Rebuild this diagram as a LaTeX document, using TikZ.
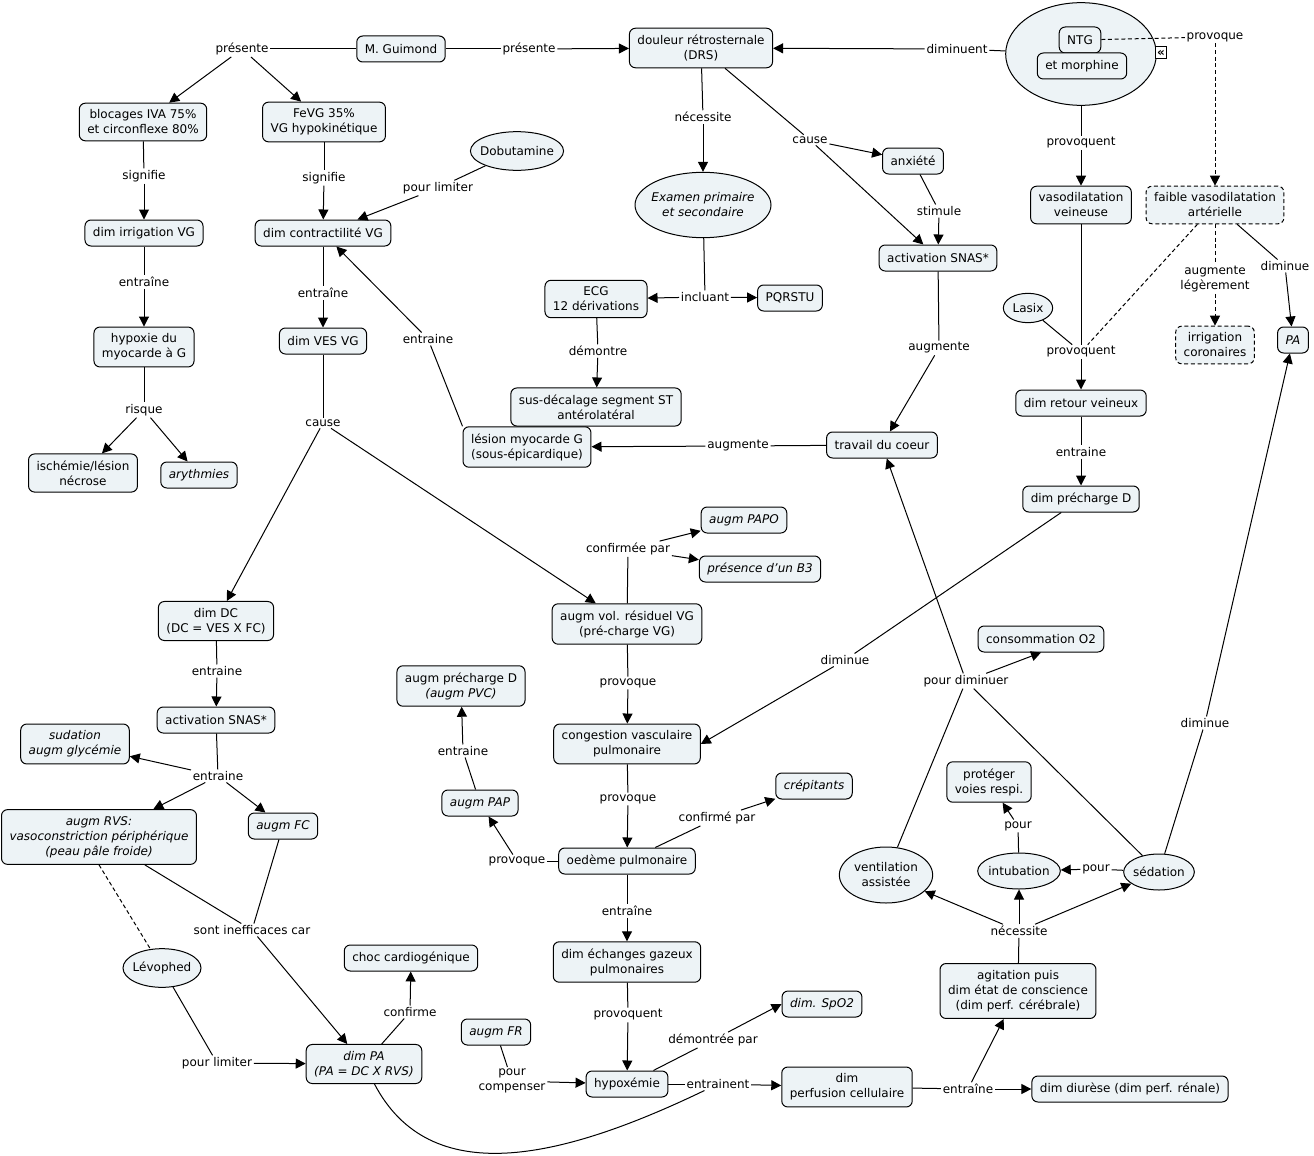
\documentclass[tikz,border=0pt]{standalone}
\usepackage{fontspec}
\setmainfont{DejaVu Sans}
\usetikzlibrary{arrows.meta,positioning,shapes.geometric}
\definecolor{cmapfill}{HTML}{EDF3F6}
\newcommand\mapfont{\fontsize{9}{11.25}\selectfont}

\begin{document}
\begin{tikzpicture}[x=0.75pt,y=-0.75pt,font=\mapfont,concept/.style={draw,fill=cmapfill,rounded corners=4.5pt,align=center,inner xsep=6pt,inner ysep=5pt,minimum height=19.5pt,line width=0.75pt},ital/.style={concept,font=\mapfont\itshape},dashbox/.style={concept,dash pattern=on 3pt off 2pt},bubble/.style={draw,fill=cmapfill,ellipse,align=center,inner xsep=-3pt,inner ysep=0pt,line width=0.75pt},phrase/.style={inner sep=1.2pt,align=center},link/.style={line width=0.75pt},arr/.style={link,-{Triangle[length=7.5pt,width=7.5pt]}},dashline/.style={dash pattern=on 3pt off 2pt}]
\useasboundingbox (0,0) rectangle (1314,1156);
\node[bubble,minimum width=113pt,minimum height=77pt] (ntg) at (1081,54){};
\node[concept] (ntgbox) at (1080,40){NTG};
\node[concept] (morph) at (1082,66){et morphine};
\node[draw,fill=white,line width=0.75pt,inner sep=0pt,minimum width=8.5pt,minimum height=9pt,font=\fontsize{9}{9}\selectfont\bfseries] (fold) at (1161,53){«};
\node[concept] (guimond) at (401,49){M. Guimond};
\node[concept] (drs) at (701,48){douleur rétrosternale\\(DRS)};
\node[concept] (blocages) at (143,122){blocages IVA 75\%\\et circonflexe 80\%};
\node[concept] (fevg) at (324,122){FeVG 35\%\\VG hypokinétique};
\node[bubble,minimum width=69pt,minimum height=29pt] (dobu) at (517,151){Dobutamine};
\node[bubble,minimum width=102pt,minimum height=49pt,font=\mapfont\itshape] (examen) at (703,205){Examen primaire\\et secondaire};
\node[concept] (anxiete) at (913,161){anxiété};
\node[concept] (vasoveine) at (1081,205){vasodilatation\\veineuse};
\node[dashbox] (faiblevaso) at (1215,205){faible vasodilatation\\artérielle};
\node[concept] (dimirrig) at (144,233){dim irrigation VG};
\node[concept] (dimcontr) at (323,233){dim contractilité VG};
\node[concept] (snas) at (938,258){activation SNAS*};
\node[concept] (ecg) at (596,299){ECG\\12 dérivations};
\node[concept] (pqrstu) at (790,298){PQRSTU};
\node[bubble,minimum width=37pt,minimum height=22pt] (lasix) at (1028,308){Lasix};
\node[dashbox] (irrigcor) at (1215,345){irrigation\\coronaires};
\node[ital] (pa) at (1293,340){PA};
\node[concept] (hypoxie) at (144,347){hypoxie du\\myocarde à G};
\node[concept] (dimves) at (323,341){dim VES VG};
\node[concept] (susdec) at (596,407){sus-décalage segment ST\\antérolatéral};
\node[concept] (lesion) at (527,447){lésion myocarde G\\(sous-épicardique)};
\node[concept] (travail) at (882,445){travail du coeur};
\node[concept] (retour) at (1081,403){dim retour veineux};
\node[concept] (prechd) at (1081,499){dim précharge D};
\node[concept] (ischemie) at (83,473){ischémie/lésion\\nécrose};
\node[ital] (aryth) at (199,475){arythmies};
\node[ital] (papo) at (744,520){augm PAPO};
\node[ital] (bthree) at (760,569){présence d'un B3};
\node[concept] (volres) at (627,624){augm vol. résiduel VG\\(pré-charge VG)};
\node[concept] (dimdc) at (216,621){dim DC\\(DC = VES X FC)};
\node[concept] (conso) at (1041,639){consommation O2};
\node[concept] (augprechd) at (461,686){augm précharge D\\\textit{(augm PVC)}};
\node[concept] (snasb) at (216,720){activation SNAS*};
\node[ital] (sudation) at (75,744){sudation\\augm glycémie};
\node[concept] (congestion) at (627,744){congestion vasculaire\\pulmonaire};
\node[ital] (crep) at (814,786){crépitants};
\node[ital] (pap) at (480,803){augm PAP};
\node[concept] (proteger) at (989,782){protéger\\voies respi.};
\node[ital] (rvs) at (99,837){augm RVS:\\vasoconstriction périphérique\\(peau pâle froide)};
\node[ital] (fc) at (283,826){augm FC};
\node[concept] (oedeme) at (627,861){oedème pulmonaire};
\node[bubble,minimum width=70pt,minimum height=42pt] (ventil) at (886,875){ventilation\\assistée};
\node[bubble,minimum width=62pt,minimum height=27pt] (intub) at (1019,871){intubation};
\node[bubble,minimum width=53pt,minimum height=27pt] (sedation) at (1159,872){sédation};
\node[bubble,minimum width=58.5pt,minimum height=29pt] (levophed) at (162,968){Lévophed};
\node[concept] (choc) at (411,958){choc cardiogénique};
\node[concept] (echanges) at (627,962){dim échanges gazeux\\pulmonaires};
\node[concept] (agitation) at (1018,991){agitation puis\\dim état de conscience\\(dim perf. cérébrale)};
\node[ital] (spo2) at (822,1004){dim. SpO2};
\node[ital] (fr) at (496,1032){augm FR};
\node[ital] (dimpa) at (364,1064){dim PA\\(PA = DC X RVS)};
\node[concept] (hypoxemie) at (627,1084){hypoxémie};
\node[concept] (perfusion) at (847,1087){dim\\perfusion cellulaire};
\node[concept] (diurese) at (1130,1089){dim diurèse (dim perf. rénale)};
\node[phrase] (lpres1) at (242,49){présente};
\node[phrase] (lpres2) at (529,49){présente};
\node[phrase] (ldiminuent) at (957,49){diminuent};
\node[phrase] (lprovoque) at (1215,37){provoque};
\node[phrase] (lsignif1) at (144,176){signifie};
\node[phrase] (lsignif2) at (324,178){signifie};
\node[phrase] (lpourlim1) at (438,188){pour limiter};
\node[phrase] (lnecess1) at (703,117){nécessite};
\node[phrase] (lcause1) at (810,140){cause};
\node[phrase] (lstimule) at (939,211){stimule};
\node[phrase] (lprovoquent1) at (1081,143){provoquent};
\node[phrase] (lentr1) at (144,282){entraîne};
\node[phrase] (lentr2) at (323,293){entraîne};
\node[phrase] (lentr3) at (428,339){entraine};
\node[phrase] (lincluant) at (705,297){incluant};
\node[phrase] (laugm1) at (939,348){augmente};
\node[phrase] (ldemontre) at (598,351){démontre};
\node[phrase] (lprovoquent2) at (1081,352){provoquent};
\node[phrase] (laugmleg) at (1215,279){augmente\\légèrement};
\node[phrase] (ldiminue1) at (1285,266){diminue};
\node[phrase] (lrisque) at (144,410){risque};
\node[phrase] (lcause2) at (323,423){cause};
\node[phrase] (laugm2) at (738,446){augmente};
\node[phrase] (lentr4) at (1081,452){entraine};
\node[phrase] (lconfirmee) at (628,549){confirmée par};
\node[phrase] (ldiminue2) at (845,660){diminue};
\node[phrase] (lpourdim) at (966,681){pour diminuer};
\node[phrase] (lentr5) at (217,671){entraine};
\node[phrase] (lentr6) at (218,776){entraine};
\node[phrase] (lprovoque2) at (628,683){provoque};
\node[phrase] (lentr7) at (463,751){entraine};
\node[phrase] (lprovoque3) at (628,799){provoque};
\node[phrase] (lconfirme2) at (717,818){confirmé par};
\node[phrase] (lprovoque4) at (517,861){provoque};
\node[phrase] (lpour1) at (1018,826){pour};
\node[phrase] (lpour2) at (1096,869){pour};
\node[phrase] (ldiminue3) at (1205,723){diminue};
\node[phrase] (linefficaces) at (252,930){sont inefficaces car};
\node[phrase] (lentr8) at (627,911){entraîne};
\node[phrase] (lnecess2) at (1019,931){nécessite};
\node[phrase] (lconfirme) at (410,1012){confirme};
\node[phrase] (lpourlim2) at (217,1063){pour limiter};
\node[phrase] (lprovoquent3) at (628,1015){provoquent};
\node[phrase] (ldemontree) at (713,1040){démontrée par};
\node[phrase] (lcompenser) at (512,1081){pour\\compenser};
\node[phrase] (lentrainent) at (718,1084){entrainent};
\node[phrase] (lentr9) at (968,1089){entraîne};
\draw[link] (guimond) -- (lpres1);\draw[arr] (lpres1) -- (blocages);\draw[arr] (lpres1) -- (fevg);\draw[link] (guimond) -- (lpres2);\draw[arr] (lpres2) -- (drs);
\draw[link] (ntg) -- (ldiminuent);\draw[arr] (ldiminuent) -- (drs);\draw[link,dashline] (ntgbox) -- (lprovoque);\draw[arr,dashline] (lprovoque) -- (faiblevaso);
\draw[link] (blocages) -- (lsignif1);\draw[arr] (lsignif1) -- (dimirrig);\draw[link] (fevg) -- (lsignif2);\draw[arr] (lsignif2) -- (dimcontr);\draw[link] (dobu) -- (lpourlim1);\draw[arr] (lpourlim1) -- (dimcontr);
\draw[link] (drs) -- (lnecess1);\draw[arr] (lnecess1) -- (examen);\draw[link] (drs) -- (lcause1);\draw[arr] (lcause1) -- (anxiete);\draw[arr] (lcause1) -- (snas);\draw[link] (anxiete) -- (lstimule);\draw[arr] (lstimule) -- (snas);
\draw[link] (ntg) -- (lprovoquent1);\draw[arr] (lprovoquent1) -- (vasoveine);\draw[link] (dimirrig) -- (lentr1);\draw[arr] (lentr1) -- (hypoxie);\draw[link] (dimcontr) -- (lentr2);\draw[arr] (lentr2) -- (dimves);
\draw[link] (lesion.north west) -- (lentr3);\draw[arr] (lentr3) -- (dimcontr);\draw[link] (examen) -- (lincluant);\draw[arr] (lincluant) -- (ecg);\draw[arr] (lincluant) -- (pqrstu);
\draw[link] (snas) -- (laugm1);\draw[arr] (laugm1) -- (travail);\draw[link] (ecg) -- (ldemontre);\draw[arr] (ldemontre) -- (susdec);
\draw[link] (vasoveine) -- (lprovoquent2);\draw[link] (lasix) -- (lprovoquent2);\draw[link,dashline] (faiblevaso) -- (lprovoquent2);\draw[arr] (lprovoquent2) -- (retour);
\draw[link,dashline] (faiblevaso) -- (laugmleg);\draw[arr,dashline] (laugmleg) -- (irrigcor);\draw[link] (faiblevaso) -- (ldiminue1);\draw[arr] (ldiminue1) -- (pa);
\draw[link] (hypoxie) -- (lrisque);\draw[arr] (lrisque) -- (ischemie);\draw[arr] (lrisque) -- (aryth);\draw[link] (dimves) -- (lcause2);\draw[arr] (lcause2) -- (dimdc);\draw[arr] (lcause2) -- (volres);
\draw[link] (travail) -- (laugm2);\draw[arr] (laugm2) -- (lesion);\draw[link] (retour) -- (lentr4);\draw[arr] (lentr4) -- (prechd);
\draw[link] (volres) -- (lconfirmee);\draw[arr] (lconfirmee) -- (papo);\draw[arr] (lconfirmee) -- (bthree);\draw[link] (prechd) -- (ldiminue2);\draw[arr] (ldiminue2) -- (congestion.east);
\draw[link] (ventil) -- (lpourdim);\draw[link] (sedation) -- (lpourdim);\draw[arr] (lpourdim) -- (travail);\draw[arr] (lpourdim) -- (conso.south);
\draw[link] (dimdc) -- (lentr5);\draw[arr] (lentr5) -- (snasb);\draw[link] (snasb) -- (lentr6);\draw[arr] (lentr6) -- (sudation);\draw[arr] (lentr6) -- (rvs);\draw[arr] (lentr6) -- (fc);
\draw[link] (volres) -- (lprovoque2);\draw[arr] (lprovoque2) -- (congestion);\draw[link] (pap) -- (lentr7);\draw[arr] (lentr7) -- (augprechd);\draw[link] (congestion) -- (lprovoque3);\draw[arr] (lprovoque3) -- (oedeme);
\draw[link] (oedeme) -- (lconfirme2);\draw[arr] (lconfirme2) -- (crep);\draw[link] (oedeme) -- (lprovoque4);\draw[arr] (lprovoque4) -- (pap);
\draw[link] (intub) -- (lpour1);\draw[arr] (lpour1) -- (proteger);\draw[link] (sedation) -- (lpour2);\draw[arr] (lpour2) -- (intub);\draw[link] (sedation) -- (ldiminue3);\draw[arr] (ldiminue3) -- (pa);
\draw[link] (rvs) -- (linefficaces);\draw[link] (fc) -- (linefficaces);\draw[arr] (linefficaces) -- (dimpa);\draw[link,dashline] (rvs.south) -- (levophed);
\draw[link] (oedeme) -- (lentr8);\draw[arr] (lentr8) -- (echanges);\draw[link] (agitation) -- (lnecess2);\draw[arr] (lnecess2) -- (ventil);\draw[arr] (lnecess2) -- (intub);\draw[arr] (lnecess2) -- (sedation);
\draw[link] (dimpa) -- (lconfirme);\draw[arr] (lconfirme) -- (choc);\draw[link] (levophed) -- (lpourlim2);\draw[arr] (lpourlim2) -- (dimpa);
\draw[link] (echanges) -- (lprovoquent3);\draw[arr] (lprovoquent3) -- (hypoxemie);\draw[link] (hypoxemie) -- (ldemontree);\draw[arr] (ldemontree) -- (spo2.west);
\draw[link] (fr) -- (lcompenser);\draw[arr] (lcompenser) -- (hypoxemie);\draw[link] (hypoxemie) -- (lentrainent);\draw[arr] (lentrainent) -- (perfusion);
\draw[link] (dimpa) .. controls (430,1190) and (560,1160) .. (lentrainent);
\draw[link] (perfusion) -- (lentr9);\draw[arr] (lentr9) -- (agitation);\draw[arr] (lentr9) -- (diurese);
\end{tikzpicture}
\end{document}
